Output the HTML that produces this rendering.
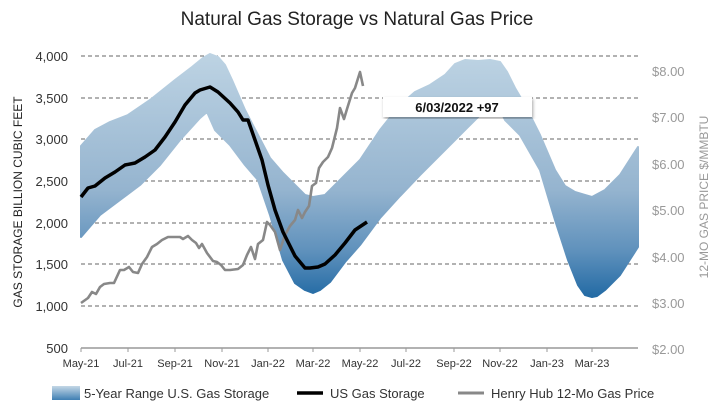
<!DOCTYPE html><html><head><style>body{margin:0;background:#fff}svg{font-family:"Liberation Sans",sans-serif}</style></head><body>
<svg width="714" height="409" viewBox="0 0 714 409" xmlns="http://www.w3.org/2000/svg">
<defs>
<linearGradient id="g" x1="0" y1="55" x2="0" y2="300" gradientUnits="userSpaceOnUse">
<stop offset="0" stop-color="#bdd3e3"/><stop offset="0.55" stop-color="#95b4cf"/><stop offset="0.8" stop-color="#5f91bc"/><stop offset="1" stop-color="#1f68a3"/></linearGradient>
<linearGradient id="lg" x1="0" y1="0" x2="0" y2="1"><stop offset="0" stop-color="#c4d7e6"/><stop offset="1" stop-color="#3f7fb3"/></linearGradient>
<filter id="sh"><feDropShadow dx="1" dy="2" stdDeviation="1.5" flood-opacity="0.35"/></filter>
</defs>
<text x="357" y="25" text-anchor="middle" font-size="19" fill="#222">Natural Gas Storage vs Natural Gas Price</text>
<g stroke="#666" stroke-dasharray="4,3" stroke-width="1">
<line x1="81" y1="56" x2="638" y2="56"/><line x1="81" y1="98" x2="638" y2="98"/><line x1="81" y1="139" x2="638" y2="139"/><line x1="81" y1="181" x2="638" y2="181"/><line x1="81" y1="223" x2="638" y2="223"/><line x1="81" y1="264" x2="638" y2="264"/><line x1="81" y1="306" x2="638" y2="306"/></g>
<polygon fill="url(#g)" stroke="url(#g)" stroke-width="2" stroke-linejoin="round" points="81,146 95,130 110,122 128,115 150,100 175,80 192,67 203,58 210,54 218,57 225,65 232,80 245,110 258,135 270,158 283,173 295,185 305,195 313,197 325,195 340,180 360,160 380,130 400,105 415,92 430,85 445,75 455,64 465,60 478,61 490,60 500,62 507,72 515,88 525,105 540,135 555,170 565,186 575,192 585,195 592,197 605,190 620,175 638,147 638,247 620,275 605,290 597,296 592,297 585,295 578,285 568,260 555,220 540,170 520,135 505,120 495,99 485,110 470,125 455,140 440,155 420,175 400,196 380,218 360,245 345,262 330,282 320,290 313,293 305,290 295,283 283,260 270,215 258,180 245,165 230,145 215,130 207,112 200,118 180,140 160,165 140,185 120,200 100,215 81,237"/>
<line x1="81" y1="348" x2="638" y2="348" stroke="#999" stroke-width="1.5"/>
<g stroke="#999"><line x1="81" y1="348" x2="81" y2="352"/><line x1="128" y1="348" x2="128" y2="352"/><line x1="175" y1="348" x2="175" y2="352"/><line x1="222" y1="348" x2="222" y2="352"/><line x1="268" y1="348" x2="268" y2="352"/><line x1="313" y1="348" x2="313" y2="352"/><line x1="360" y1="348" x2="360" y2="352"/><line x1="406" y1="348" x2="406" y2="352"/><line x1="454" y1="348" x2="454" y2="352"/><line x1="500" y1="348" x2="500" y2="352"/><line x1="547" y1="348" x2="547" y2="352"/><line x1="592" y1="348" x2="592" y2="352"/></g>
<polyline fill="none" stroke="#888" stroke-width="2.6" stroke-linejoin="round" points="81,303 88,298 92,292 96,294 100,287 104,284 110,283 114,283 120,270 124,270 129,267 133,272 138,273 142,264 147,257 152,247 157,244 162,240 168,237 176,237 180,237 183,239 188,236 192,240 196,243 199,248 202,244 207,253 213,261 217,262 221,265 225,270 230,270 238,269 243,265 247,255 251,247 255,259 258,244 263,240 267,222 270,225 275,232 280,250 285,235 290,226 295,220 298,210 302,218 305,212 309,206 312,186 316,183 319,168 323,162 328,157 332,148 337,128 340,108 344,119 347,109 352,93 355,88 360,72 363,86"/>
<polyline fill="none" stroke="#000" stroke-width="3.5" stroke-linejoin="round" points="81,197 88,188 95,186 105,178 115,172 125,165 135,163 145,157 155,150 165,137 175,122 185,105 195,93 200,90 210,87 218,92 230,103 238,112 243,120 248,120 255,140 262,160 268,185 275,210 283,232 295,256 305,268 310,268 318,267 325,264 335,255 345,243 355,230 367,222"/>
<rect x="383" y="97" width="149" height="20" fill="#fff" filter="url(#sh)"/>
<text x="457" y="112" text-anchor="middle" font-size="13" font-weight="bold" fill="#111">6/03/2022  +97</text>
<g font-size="13" fill="#333" text-anchor="end"><text x="68" y="61">4,000</text><text x="68" y="103">3,500</text><text x="68" y="144">3,000</text><text x="68" y="186">2,500</text><text x="68" y="228">2,000</text><text x="68" y="269">1,500</text><text x="68" y="311">1,000</text><text x="68" y="353">500</text></g>
<g font-size="13" fill="#999"><text x="652" y="76">$8.00</text><text x="652" y="122">$7.00</text><text x="652" y="169">$6.00</text><text x="652" y="215">$5.00</text><text x="652" y="262">$4.00</text><text x="652" y="308">$3.00</text><text x="652" y="354">$2.00</text></g>
<g font-size="11" fill="#333" text-anchor="middle"><text x="81" y="367">May-21</text><text x="128" y="367">Jul-21</text><text x="175" y="367">Sep-21</text><text x="222" y="367">Nov-21</text><text x="268" y="367">Jan-22</text><text x="313" y="367">Mar-22</text><text x="360" y="367">May-22</text><text x="406" y="367">Jul-22</text><text x="454" y="367">Sep-22</text><text x="500" y="367">Nov-22</text><text x="547" y="367">Jan-23</text><text x="592" y="367">Mar-23</text></g>
<text transform="translate(22,202) rotate(-90)" text-anchor="middle" font-size="12" fill="#222">GAS STORAGE BILLION CUBIC FEET</text>
<text transform="translate(708,197) rotate(-90)" text-anchor="middle" font-size="12" fill="#999">12-MO GAS PRICE $/MMBTU</text>
<rect x="52" y="386" width="28" height="14" fill="url(#lg)"/>
<text x="84" y="398" font-size="13" fill="#333">5-Year Range U.S. Gas Storage</text>
<line x1="297" y1="393" x2="323" y2="393" stroke="#000" stroke-width="3.5"/>
<text x="330" y="398" font-size="13" fill="#333">US Gas Storage</text>
<line x1="458" y1="393" x2="484" y2="393" stroke="#888" stroke-width="3"/>
<text x="491" y="398" font-size="13" fill="#333">Henry Hub 12-Mo Gas Price</text>
</svg></body></html>
